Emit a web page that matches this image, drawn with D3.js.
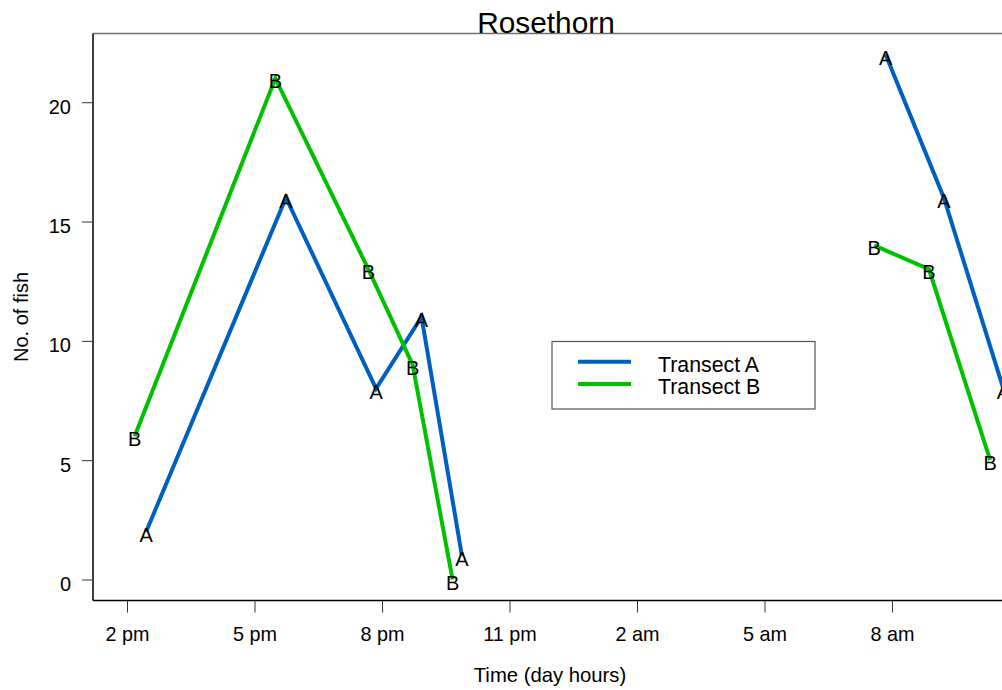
<!DOCTYPE html>
<html>
<head>
<meta charset="utf-8">
<script src="https://cdn.jsdelivr.net/npm/d3@7"></script>
<style>
  html, body { margin: 0; padding: 0; background: #fff; }
  svg { display: block; }
  text { font-family: "Liberation Sans", Arial, Helvetica, sans-serif; fill: #000; }
</style>
</head>
<body>
<svg id="chart" width="1002" height="690"></svg>
<script>
// Sampling times in hours since midnight of the first day (values above 24 fall on the next morning)
const timesA = [14.45, 17.74, 19.86, 20.93, 21.88, 31.85, 33.22, 34.62];
const countsA = [2, 16, 8, 11, 1, 22, 16, 8];
const timesB = [14.18, 17.49, 19.68, 20.72, 21.66, 31.58, 32.87, 34.31];
const countsB = [6, 21, 13, 9, 0, 14, 13, 5];

// Daytime segments are drawn separately; no sampling took place overnight
const segmentsA = [[0, 5], [5, 8]];
const segmentsB = [[0, 5], [5, 8]];

const xTickHours = [14, 17, 20, 23, 26, 29, 32];
const xTickLabels = ["2 pm", "5 pm", "8 pm", "11 pm", "2 am", "5 am", "8 am"];
const yTicks = [0, 5, 10, 15, 20];

const seriesNames = ["Transect A", "Transect B"];
const seriesMarks = ["A", "B"];
const seriesColors = ["#0060C0", "#00C000"];

const svg = d3.select("#chart");

const plot = { left: 93, top: 33.5, right: 1040, bottom: 600.5 };

// 42.5 px per hour, 2 pm at x = 127
const x = d3.scaleLinear()
  .domain([14 - (127 - plot.left) / 42.5, 14 + (plot.right - 127) / 42.5])
  .range([plot.left, plot.right]);
const y = d3.scaleLinear()
  .domain([-0.88, 22.88])
  .range([plot.bottom, plot.top]);

svg.append("defs").append("clipPath").attr("id", "plotclip")
  .append("rect")
  .attr("x", plot.left).attr("y", plot.top)
  .attr("width", plot.right - plot.left).attr("height", plot.bottom - plot.top);

// Frame
svg.append("line")
  .attr("x1", plot.left).attr("x2", plot.right)
  .attr("y1", plot.top).attr("y2", plot.top)
  .attr("stroke", "#707070").attr("stroke-width", 1.5);

// Axes
const xAxis = d3.axisBottom(x)
  .tickValues(xTickHours)
  .tickFormat((d, i) => xTickLabels[i])
  .tickSize(12)
  .tickPadding(14);
const gx = svg.append("g")
  .attr("transform", `translate(0,${plot.bottom})`)
  .call(xAxis);
gx.select(".domain").attr("stroke", "#000").attr("stroke-width", 1.5)
  .attr("d", `M${plot.left},0H${plot.right}`);
gx.selectAll(".tick line").attr("stroke", "#333").attr("stroke-width", 1);
gx.selectAll(".tick text")
  .attr("font-size", 19.8)
  .attr("font-family", "'Liberation Sans', Arial, sans-serif")
  .attr("fill", "#000");

const yAxis = d3.axisLeft(y)
  .tickValues(yTicks)
  .tickSize(11)
  .tickPadding(11);
const gy = svg.append("g")
  .attr("transform", `translate(${plot.left},0)`)
  .call(yAxis);
gy.select(".domain").attr("stroke", "#000").attr("stroke-width", 1.5)
  .attr("d", `M0,${plot.top}V${plot.bottom}`);
gy.selectAll(".tick line").attr("stroke", "#333").attr("stroke-width", 1);
gy.selectAll(".tick text")
  .attr("font-size", 20)
  .attr("font-family", "'Liberation Sans', Arial, sans-serif")
  .attr("fill", "#000")
  .attr("dy", "0.55em");

// Data lines and point letters
const layer = svg.append("g").attr("clip-path", "url(#plotclip)");
const line = d3.line().x(d => x(d[0])).y(d => y(d[1]));

const series = [
  { times: timesA, counts: countsA, segments: segmentsA },
  { times: timesB, counts: countsB, segments: segmentsB }
];

series.forEach((s, k) => {
  const pts = s.times.map((t, i) => [t, s.counts[i]]);
  s.segments.forEach(([a, b]) => {
    layer.append("path")
      .attr("d", line(pts.slice(a, b)))
      .attr("fill", "none")
      .attr("stroke", seriesColors[k])
      .attr("stroke-width", 4)
      .attr("stroke-linejoin", "miter")
      .attr("stroke-linecap", "butt");
  });
});

series.forEach((s, k) => {
  layer.selectAll(null)
    .data(s.times.map((t, i) => [t, s.counts[i]]))
    .join("text")
    .attr("x", d => x(d[0]))
    .attr("y", d => y(d[1]) + 10)
    .attr("text-anchor", "middle")
    .attr("font-size", 20)
    .text(seriesMarks[k]);
});

// Title and axis titles
svg.append("text")
  .attr("x", 546).attr("y", 33)
  .attr("text-anchor", "middle")
  .attr("font-size", 29.8)
  .text("Rosethorn");

svg.append("text")
  .attr("x", 550).attr("y", 682)
  .attr("text-anchor", "middle")
  .attr("font-size", 20.3)
  .text("Time (day hours)");

svg.append("text")
  .attr("transform", `translate(28,${(plot.top + plot.bottom) / 2}) rotate(-90)`)
  .attr("text-anchor", "middle")
  .attr("font-size", 20)
  .text("No. of fish");

// Legend
const legend = svg.append("g");
legend.append("rect")
  .attr("x", 552).attr("y", 341.5)
  .attr("width", 263).attr("height", 67.5)
  .attr("fill", "#fff")
  .attr("stroke", "#555").attr("stroke-width", 1.2);
seriesNames.forEach((name, k) => {
  const yy = 361.7 + k * 22.3;
  legend.append("line")
    .attr("x1", 578).attr("x2", 631)
    .attr("y1", yy).attr("y2", yy)
    .attr("stroke", seriesColors[k]).attr("stroke-width", 4);
  legend.append("text")
    .attr("x", 658).attr("y", yy + 10)
    .attr("font-size", 21.3)
    .text(name);
});
</script>
</body>
</html>
